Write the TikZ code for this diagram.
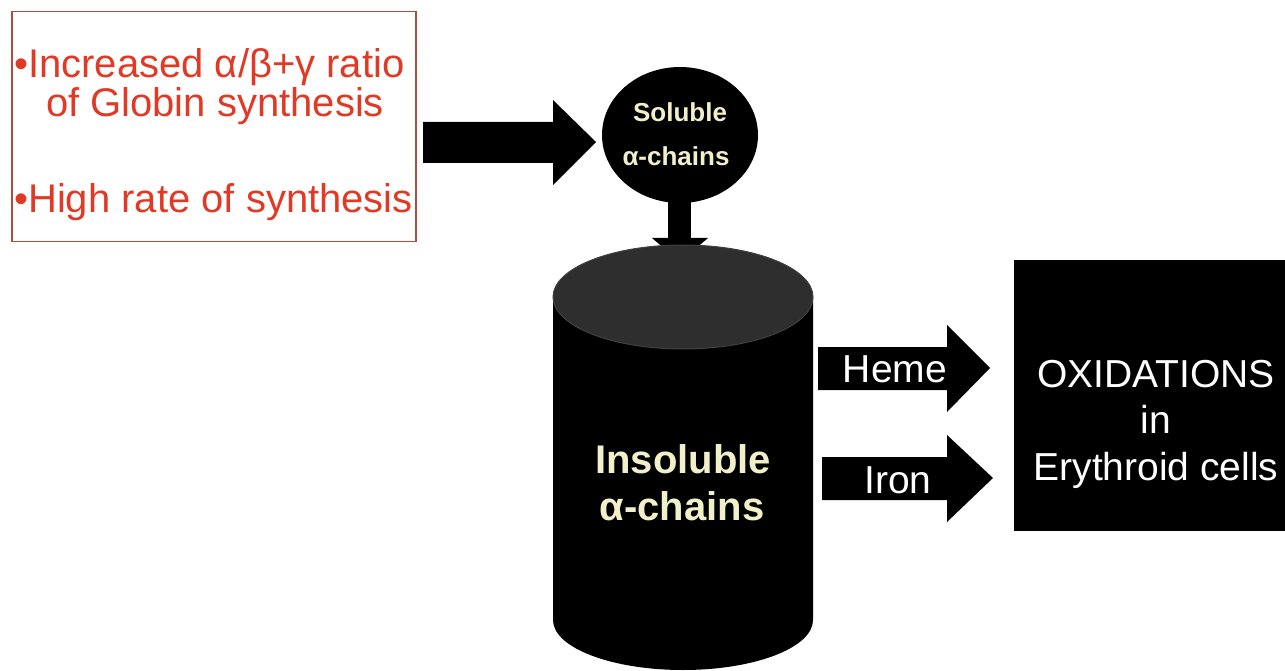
\documentclass[tikz,border=0pt]{standalone}
\usepackage{fontspec}
\setmainfont{Liberation Sans}
\usetikzlibrary{shapes.geometric}
\definecolor{redtxt}{RGB}{224,58,38}
\definecolor{redbox}{RGB}{170,80,60}
\definecolor{beige}{RGB}{242,240,200}
\definecolor{cyltop}{RGB}{46,46,46}
\begin{document}
\begin{tikzpicture}[x=1pt,y=-1pt,
  redtext/.style={text=redtxt, font=\fontsize{40}{48}\selectfont, inner sep=0pt},
  whitetext/.style={text=white, font=\fontsize{39}{47}\selectfont, inner sep=0pt},
  beigebig/.style={text=beige, font=\bfseries\fontsize{40}{47}\selectfont, inner sep=0pt},
  beigesmall/.style={text=beige, font=\bfseries\fontsize{26}{30}\selectfont, inner sep=0pt},
  blockarrow/.style={fill=black}]
\useasboundingbox (0,0) rectangle (1285,671);
\fill[white] (0,0) rectangle (1285,671);

% causes box
\node[draw=redbox, line width=1.5pt, minimum width=404pt, minimum height=230pt,
      anchor=north west, inner sep=0pt] (causes) at (11,11) {};
\node[redtext, anchor=base west] (l1) at (14,78) {•Increased α/β+γ ratio};
\node[redtext, anchor=base] (l2) at (215,117) {of Globin synthesis};
\node[redtext, anchor=base west] (l3) at (14,213) {•High rate of synthesis};

% arrow causes -> soluble
\fill[blockarrow] (423,122) -- (553,122) -- (553,100) -- (596,142)
   -- (553,185) -- (553,163) -- (423,163) -- cycle;

% soluble alpha chains
\node[ellipse, fill=black, minimum width=156pt, minimum height=136pt, inner sep=0pt] (sol) at (680,135) {};
\node[beigesmall, anchor=base] (sol1) at (680,122) {Soluble};
\node[beigesmall, anchor=base] (sol2) at (676,166) {α-chains};

% arrow soluble -> insoluble
\fill[blockarrow] (668,190) rectangle (691,240);
\fill[blockarrow] (652,238) -- (708,238) -- (680,262) -- cycle;

% insoluble cylinder
\node[minimum width=260pt, minimum height=425pt, inner sep=0pt] (insol) at (683,457) {};
\fill[black] (553,297) -- (553,620) arc[start angle=180, end angle=360, x radius=130pt, y radius=50pt]
   -- (813,297) -- cycle;
\filldraw[fill=cyltop, draw=black!75, line width=1pt] (683,297) ellipse [x radius=130pt, y radius=52pt];
\node[beigebig, anchor=base] (ins1) at (683,473) {Insoluble};
\node[beigebig, anchor=base] (ins2) at (682,520) {α-chains};

% heme / iron arrows
\fill[blockarrow] (818,347) -- (947,347) -- (947,325) -- (990,368)
   -- (947,412) -- (947,390) -- (818,390) -- cycle;
\node[whitetext, anchor=base] (heme) at (895,382) {Heme};
\fill[blockarrow] (822,457) -- (947,457) -- (947,435) -- (993,478)
   -- (947,522) -- (947,500) -- (822,500) -- cycle;
\node[whitetext, anchor=base] (iron) at (898,493) {Iron};

% oxidations box
\node[fill=black, anchor=north west, minimum width=271pt, minimum height=271pt, inner sep=0pt] (ox) at (1014,260) {};
\node[whitetext, anchor=base] (ox1) at (1156,387) {OXIDATIONS};
\node[whitetext, anchor=base] (ox2) at (1156,433) {in};
\node[whitetext, anchor=base] (ox3) at (1156,480) {Erythroid cells};
\end{tikzpicture}
\end{document}
